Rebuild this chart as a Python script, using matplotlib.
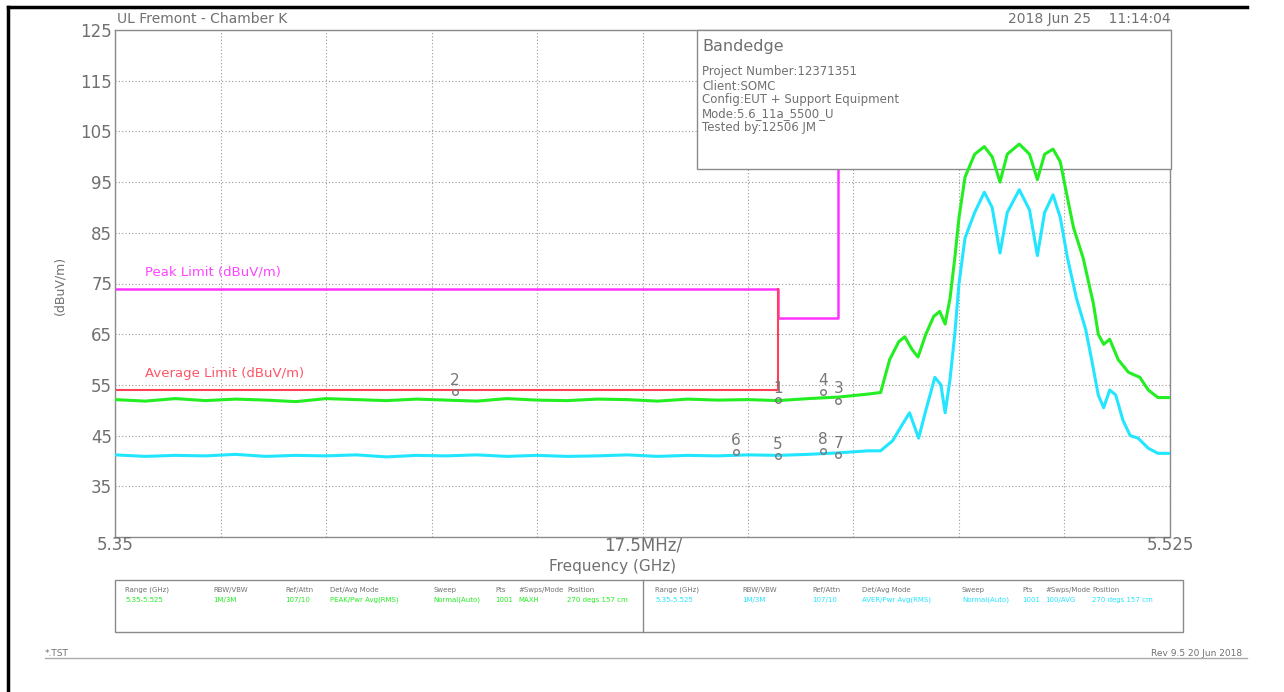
"""
Bandedge plot, UL Fremont chamber K (5.35 - 5.525 GHz)
"""
import matplotlib
matplotlib.use('Agg')
import matplotlib.pyplot as plt
import matplotlib.transforms as mtransforms
from matplotlib.patches import Rectangle

W, H = 1284, 692
GRAY = '#707070'

# peak trace (green)
peak_f = [5.350, 5.355, 5.360, 5.365, 5.370, 5.375, 5.380, 5.385, 5.390, 5.395,
          5.400, 5.405, 5.410, 5.415, 5.420, 5.425, 5.430, 5.435, 5.440, 5.445,
          5.450, 5.455, 5.460, 5.465, 5.470, 5.475,
          5.4770, 5.4785, 5.4800, 5.4810, 5.4822, 5.4832, 5.4845, 5.4858, 5.4868,
          5.4877, 5.4885, 5.4893, 5.4900, 5.4910, 5.4926, 5.4942, 5.4955, 5.4968,
          5.4980, 5.5000, 5.5017, 5.5030, 5.5042, 5.5056, 5.5068, 5.5078, 5.5090,
          5.5106, 5.5123, 5.5131, 5.5140, 5.5150, 5.5164, 5.5181, 5.5190, 5.5200,
          5.5214, 5.5230, 5.5250]
peak_db = [52.1, 51.8, 52.3, 51.9, 52.2, 52.0, 51.7, 52.3, 52.1, 51.9,
           52.2, 52.0, 51.8, 52.3, 52.0, 51.9, 52.2, 52.1, 51.8, 52.2,
           52.0, 52.1, 51.9, 52.3, 52.6, 53.2,
           53.5, 60.0, 63.5, 64.5, 62.0, 60.5, 65.0, 68.5, 69.5,
           67.0, 72.0, 80.0, 88.0, 96.0, 100.5, 102.0, 100.0, 95.0,
           100.5, 102.5, 100.5, 95.5, 100.5, 101.5, 99.0, 93.0, 86.0,
           80.0, 71.0, 65.0, 63.0, 64.0, 60.0, 57.5, 57.0, 56.5,
           54.0, 52.5, 52.5]

# average trace (cyan)
avg_f = [5.350, 5.355, 5.360, 5.365, 5.370, 5.375, 5.380, 5.385, 5.390, 5.395,
         5.400, 5.405, 5.410, 5.415, 5.420, 5.425, 5.430, 5.435, 5.440, 5.445,
         5.450, 5.455, 5.460, 5.465, 5.470, 5.475,
         5.4770, 5.4790, 5.4805, 5.4818, 5.4833, 5.4845, 5.4860, 5.4870, 5.4877,
         5.4885, 5.4893, 5.4900, 5.4910, 5.4926, 5.4942, 5.4955, 5.4968, 5.4980,
         5.5000, 5.5017, 5.5030, 5.5042, 5.5056, 5.5068, 5.5080, 5.5095, 5.5110,
         5.5120, 5.5131, 5.5140, 5.5150, 5.5160, 5.5172, 5.5184, 5.5197, 5.5214,
         5.5230, 5.5250]
avg_db = [41.2, 40.9, 41.1, 41.0, 41.3, 40.9, 41.1, 41.0, 41.2, 40.8,
          41.1, 41.0, 41.2, 40.9, 41.1, 40.9, 41.0, 41.2, 40.9, 41.1,
          41.0, 41.2, 41.1, 41.3, 41.6, 42.0,
          42.0, 44.0, 47.0, 49.5, 44.5, 50.0, 56.5, 55.0, 49.5,
          56.0, 65.0, 75.0, 84.0, 89.0, 93.0, 90.0, 81.0, 89.0,
          93.5, 89.5, 80.5, 89.0, 92.5, 88.0, 80.0, 72.0, 66.0,
          60.0, 53.0, 50.5, 54.0, 53.0, 48.0, 45.0, 44.5, 42.5,
          41.5, 41.5]

# limit lines
peak_lim_f = [5.35, 5.46, 5.46, 5.47, 5.47]
peak_lim_db = [74, 74, 68.2, 68.2, 125]
avg_lim_f = [5.35, 5.46, 5.46]
avg_lim_db = [54, 54, 74]

# markers (1-4 on peak, 5-8 on average)
mk_num = ['1', '2', '3', '4', '5', '6', '7', '8']
mk_f = [5.460, 5.4064, 5.470, 5.4674, 5.460, 5.453, 5.470, 5.4674]
mk_db = [52.0, 53.6, 51.9, 53.6, 41.0, 41.7, 41.1, 42.0]

y_ticks = [35, 45, 55, 65, 75, 85, 95, 105, 115, 125]

info_lines = ['Project Number:12371351', 'Client:SOMC',
              'Config:EUT + Support Equipment', 'Mode:5.6_11a_5500_U',
              'Tested by:12506 JM']

tbl_heads = ['Range (GHz)', 'RBW/VBW', 'Ref/Attn', 'Det/Avg Mode', 'Sweep',
             'Pts', '#Swps/Mode', 'Position']
tbl_peak = ['5.35-5.525', '1M/3M', '107/10', 'PEAK/Pwr Avg(RMS)',
            'Normal(Auto)', '1001', 'MAXH', '270 degs 157 cm']
tbl_avg = ['5.35-5.525', '1M/3M', '107/10', 'AVER/Pwr Avg(RMS)',
           'Normal(Auto)', '1001', '100/AVG', '270 degs 157 cm']
tbl_x_left = [125, 213, 285, 330, 433, 495, 518, 567]
tbl_x_right = [655, 742, 812, 862, 962, 1022, 1045, 1092]

fig = plt.figure(figsize=(W / 100, H / 100), dpi=100)
# pixel coordinates, origin top-left
px = mtransforms.Affine2D().scale(1 / W, -1 / H).translate(0, 1) + fig.transFigure

ax = fig.add_axes([115 / W, 1 - 537 / H, 1055 / W, 507 / H])
ax.set_xlim(5.35, 5.525)
ax.set_ylim(25, 125)
ax.set_yticks(y_ticks)
ax.set_yticklabels([str(t) for t in y_ticks], color=GRAY, fontsize=12)
ax.set_xticks([5.35 + 0.0175 * i for i in range(11)])
ax.set_xticklabels([])
ax.tick_params(length=0, pad=2)
ax.grid(True, color='#9a9a9a', linestyle=(0, (1, 2)), linewidth=0.8)
for sp in ax.spines.values():
    sp.set_color('#8a8a8a')
    sp.set_linewidth(1.0)

ax.plot(peak_lim_f, peak_lim_db, color='#ff33ff', lw=1.8, zorder=2)
ax.plot(avg_lim_f, avg_lim_db, color='#ff4055', lw=1.5, zorder=2)

ax.plot(peak_f, peak_db, color='#22ee22', lw=2.2, zorder=4)
ax.plot(avg_f, avg_db, color='#22e6ff', lw=2.2, zorder=4)

for n, f, d in zip(mk_num, mk_f, mk_db):
    ax.plot(f, d, marker='o', ms=4, mfc='none', mec='#777777', mew=1.0, zorder=6)
    ax.annotate(n, (f, d), xytext=(0, 3), textcoords='offset points',
                ha='center', va='bottom', color='#777777', fontsize=11, zorder=6)

ax.text(145, 272, 'Peak Limit (dBuV/m)', transform=px, color='#ff44ff',
        fontsize=9.5, va='center')
ax.text(145, 374, 'Average Limit (dBuV/m)', transform=px, color='#ff5566',
        fontsize=9.5, va='center')

# info box
ax.add_patch(Rectangle((697, 30), 474, 139, transform=px, facecolor='white',
                       edgecolor='#8a8a8a', lw=1.0, zorder=3, clip_on=False))
ax.text(702, 46, 'Bandedge', transform=px, color=GRAY, fontsize=11.5,
        va='center', zorder=5)
for i, line in enumerate(info_lines):
    ax.text(702, 72 + 14 * i, line, transform=px, color=GRAY, fontsize=8.5,
            va='center', zorder=5)

# overlay for page decorations
ov = fig.add_axes([0, 0, 1, 1], facecolor='none')
ov.set_xlim(0, W)
ov.set_ylim(H, 0)
ov.axis('off')

ov.plot([8, 8], [7, H], color='black', lw=2.5)
ov.plot([8, 1247], [7, 7], color='black', lw=2.5)
ov.plot([45, 1247], [658, 658], color='#aaaaaa', lw=1.0)

ov.text(117, 19, 'UL Fremont - Chamber K', color=GRAY, fontsize=10, va='center')
ov.text(1171, 19, '2018 Jun 25    11:14:04', color=GRAY, fontsize=10,
        va='center', ha='right')
ov.text(60, 285, '(dBuV/m)', color=GRAY, fontsize=9, rotation=90,
        ha='center', va='center')
ov.text(115, 545, '5.35', color=GRAY, fontsize=12, ha='center', va='center')
ov.text(643, 545, '17.5MHz/', color=GRAY, fontsize=12, ha='center', va='center')
ov.text(1170, 545, '5.525', color=GRAY, fontsize=12, ha='center', va='center')
ov.text(613, 567, 'Frequency (GHz)', color=GRAY, fontsize=11, ha='center',
        va='center')

# settings table
ov.add_patch(Rectangle((115, 580), 1068, 52, facecolor='none',
                       edgecolor='#8a8a8a', lw=1.0))
ov.plot([643, 643], [580, 632], color='#8a8a8a', lw=1.0)
for x, h, v in zip(tbl_x_left, tbl_heads, tbl_peak):
    ov.text(x, 590, h, color=GRAY, fontsize=5, va='center')
    ov.text(x, 600, v, color='#22ee22', fontsize=5, va='center')
for x, h, v in zip(tbl_x_right, tbl_heads, tbl_avg):
    ov.text(x, 590, h, color=GRAY, fontsize=5, va='center')
    ov.text(x, 600, v, color='#22e6ff', fontsize=5, va='center')

ov.text(45, 653, '*.TST', color=GRAY, fontsize=6.5, va='center')
ov.text(1242, 653, 'Rev 9.5 20 Jun 2018', color=GRAY, fontsize=6.5,
        va='center', ha='right')

fig.savefig('out.png', dpi=100, facecolor='white')
